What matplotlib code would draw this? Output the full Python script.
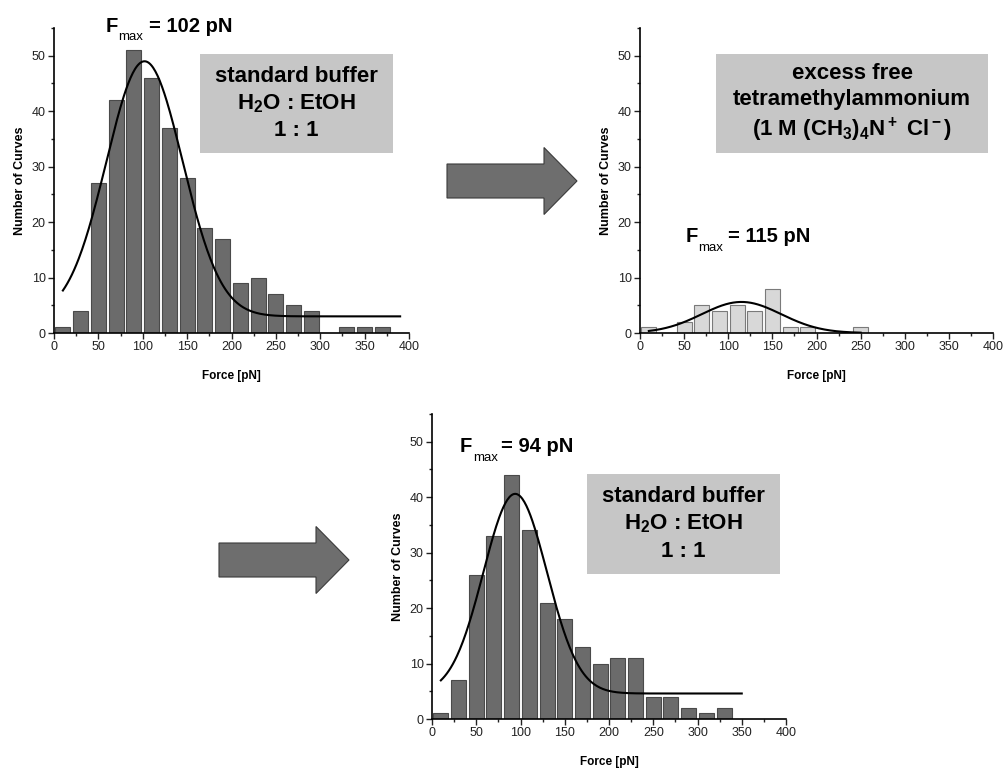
import numpy as np
import matplotlib
matplotlib.use("Agg")
import matplotlib.pyplot as plt
from matplotlib.patches import FancyArrow
from matplotlib.ticker import MultipleLocator

plt.rcParams['font.family'] = ['Liberation Sans', 'DejaVu Sans']
plt.rcParams['mathtext.fontset'] = 'custom'
plt.rcParams['mathtext.rm'] = 'Liberation Sans:bold'
plt.rcParams['mathtext.bf'] = 'Liberation Sans:bold'
plt.rcParams['mathtext.it'] = 'Liberation Sans:bold'

# bin centres (20 pN bins)
bins_a = [10, 30, 50, 70, 90, 110, 130, 150, 170, 190, 210, 230, 250, 270, 290, 310, 330, 350, 370]
counts_a = [1, 4, 27, 42, 51, 46, 37, 28, 19, 17, 9, 10, 7, 5, 4, 0, 1, 1, 1]

bins_b = [10, 30, 50, 70, 90, 110, 130, 150, 170, 190, 210, 230, 250]
counts_b = [1, 0, 2, 5, 4, 5, 4, 8, 1, 1, 0, 0, 1]

bins_c = [10, 30, 50, 70, 90, 110, 130, 150, 170, 190, 210, 230, 250, 270, 290, 310, 330]
counts_c = [1, 7, 26, 33, 44, 34, 21, 18, 13, 10, 11, 11, 4, 4, 2, 1, 2]

# gaussian fits: centre, sigma, amplitude, offset, x range
fit_a = (102, 43, 46, 3.0, 10, 390)
fit_b = (115, 45, 5.6, 0.0, 10, 250)
fit_c = (94, 36, 36, 4.6, 10, 350)

fmax_a = 102
fmax_b = 115
fmax_c = 94

fig = plt.figure(figsize=(10.05, 7.71), dpi=100)
W, H = 1005.0, 771.0


def panel(rect, bins, counts, fit, face, edge):
    ax = fig.add_axes(rect)
    ax.bar(bins, counts, width=17, color=face, edgecolor=edge, linewidth=0.8, zorder=2)
    c, s, a, y0, x0, x1 = fit
    xs = np.linspace(x0, x1, 300)
    ax.plot(xs, y0 + a * np.exp(-(xs - c) ** 2 / (2 * s ** 2)), color='black', lw=1.5, zorder=3)
    ax.set_xlim(0, 400)
    ax.set_ylim(0, 55)
    ax.spines['top'].set_visible(False)
    ax.spines['right'].set_visible(False)
    ax.spines['left'].set_linewidth(1.2)
    ax.spines['bottom'].set_linewidth(1.2)
    ax.xaxis.set_major_locator(MultipleLocator(50))
    ax.xaxis.set_minor_locator(MultipleLocator(25))
    ax.yaxis.set_major_locator(MultipleLocator(10))
    ax.yaxis.set_minor_locator(MultipleLocator(5))
    ax.tick_params(which='both', direction='out', labelsize=9, width=1, colors='#222222')
    ax.tick_params(which='major', length=4, pad=2)
    ax.tick_params(which='minor', length=2.5)
    ax.set_xlabel('Force [pN]', fontsize=8.5, fontweight='bold', labelpad=12)
    ax.set_ylabel('Number of Curves', fontsize=9, fontweight='bold', labelpad=4)
    return ax


def label_box(ax, x0, y0, x1, y1, text):
    ax.add_patch(plt.Rectangle((x0 / W, 1 - y1 / H), (x1 - x0) / W, (y1 - y0) / H,
                               transform=fig.transFigure, clip_on=False,
                               facecolor='#c6c6c6', edgecolor='none', zorder=5))
    ax.text((x0 + x1) / 2 / W, 1 - (y0 + y1) / 2 / H, text, transform=fig.transFigure,
            ha='center', va='center', fontsize=16, fontweight='bold', linespacing=1.32, zorder=6)


def fmax(x_f, x_sub, x_eq, y_base, y_sub, val):
    fig.text(x_f / W, 1 - y_base / H, 'F', fontsize=14.5, fontweight='bold', va='baseline')
    fig.text(x_sub / W, 1 - y_sub / H, 'max', fontsize=9.5, va='baseline')
    fig.text(x_eq / W, 1 - y_base / H, '= %d pN' % val, fontsize=14.5, fontweight='bold',
             va='baseline')


ax1 = panel([54 / W, 1 - 333 / H, 355 / W, 305 / H], bins_a, counts_a, fit_a, '#6b6b6b', '#4a4a4a')
ax2 = panel([640 / W, 1 - 333 / H, 353 / W, 305 / H], bins_b, counts_b, fit_b, '#d8d8d8', '#7a7a7a')
ax3 = panel([432 / W, 1 - 719 / H, 354 / W, 305 / H], bins_c, counts_c, fit_c, '#6b6b6b', '#4a4a4a')

label_box(ax1, 200, 54, 393, 153, 'standard buffer\nH$_2$O : EtOH\n1 : 1')
label_box(ax2, 716, 54, 988, 153, 'excess free\ntetramethylammonium\n(1 M (CH$_3$)$_4$N$^+$ Cl$^-$)')
label_box(ax3, 587, 474, 780, 574, 'standard buffer\nH$_2$O : EtOH\n1 : 1')

fmax(106, 118, 149, 32, 40, fmax_a)
fmax(686, 698, 728, 242, 251, fmax_b)
fmax(460, 473, 501, 452, 461, fmax_c)

# block arrows between panels
for (xa, ya) in [(447, 181), (219, 560)]:
    arr = FancyArrow(xa / W, 1 - ya / H, 130 / W, 0, width=34 / H, head_width=67 / H,
                     head_length=33 / W, length_includes_head=True, transform=fig.transFigure,
                     facecolor='#6e6e6e', edgecolor='#3a3a3a', linewidth=0.8)
    fig.patches.append(arr)

fig.savefig('out.png', dpi=100, facecolor='white')
